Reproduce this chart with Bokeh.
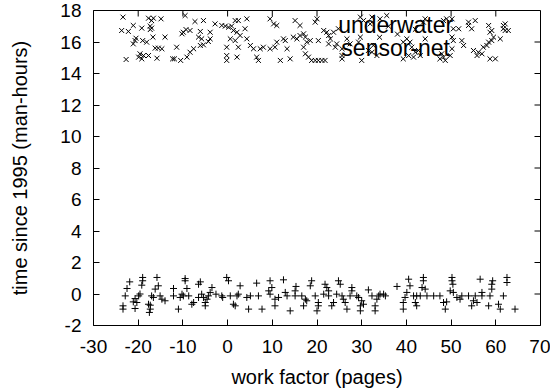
import math
from bokeh.plotting import figure
from bokeh.models import Range1d, FixedTicker
from bokeh.core.properties import value
from bokeh.embed import file_html
from bokeh.resources import INLINE

# series "x" (upper band)
upper_x = [-23.4, -17.7, -16.6, -14.9, -17.0, -21.1, -19.2, -17.3, -17.0, -23.7, -22.2, -17.3,
           -20.5, -20.7, -19.0, -21.1, -18.1, -16.7, -14.0, -15.5, -14.7, -16.2, -19.6, -18.8,
           -17.7, -15.8, -19.9, -19.2, -22.7, -12.3, -11.9, -10.5, -11.4, -9.9, -10.2, -9.3,
           -8.4, -7.3, -5.4, -6.1, -3.9, -6.5, -5.8, -3.9, -4.3, -5.4, -6.1, -7.6, -8.4, -9.1,
           -2.8, -1.3, -0.5, 0.2, 0.9, 1.7, 2.4, 1.3, 2.1, 2.8, 0.6, 1.7, 2.4, -0.2, -0.2, -0.2,
           2.1, -9.5,
           4.3, 3.9, 4.3, 5.1, 5.8, 7.3, 8.0, 6.5, 6.9, 9.5, 10.3, 11.0, 9.5, 10.6, 11.0, 12.5,
           12.9, 13.3, 11.8, 14.0, 15.1, 16.2, 14.7, 15.5, 16.2, 17.0, 17.4, 17.7, 17.0, 18.5,
           17.4, 18.1, 18.8, 19.6, 20.3, 21.1, 21.8, 20.0, 19.6, 20.3, 21.5, 22.2, 22.6, 23.0,
           22.6, 24.1, 24.4, 23.7, 24.8, 25.6, 25.6, 25.6, 26.7, 27.4, 29.3, 29.7, 30.0, 29.7,
           30.4, 32.3, 31.9, 31.5, 32.3, 33.4, 32.6, 34.1, 35.6,
           36.0, 38.0, 42.0, 34.0,
           44.2, 43.8, 48.3, 49.0, 50.2, 50.5, 51.7, 50.2, 50.5, 52.4, 52.8, 47.9, 48.3, 48.7,
           47.5, 53.9, 53.9, 55.4, 54.6, 58.4, 59.1, 58.7, 62.1, 62.8, 62.1, 61.7, 59.5, 59.1,
           58.4, 58.0, 57.2, 61.0, 55.0, 56.1, 56.9, 55.8, 58.7, 59.9, 61.7, 39.3, 40.1, 40.8,
           41.2, 42.0, 42.7, 40.5, 41.6, 39.3, 43.1, 44.2, 49.8, 50.2]
upper_y = [17.58, 17.51, 17.51, 17.47, 17.36, 17.05, 16.88, 17.01, 16.88, 16.73, 16.67, 16.79,
           16.24, 16.09, 16.09, 15.88, 15.99, 16.31, 16.31, 15.61, 15.57, 15.61, 15.25, 15.14,
           15.14, 14.97, 15.04, 14.93, 14.89, 14.93, 14.93, 14.83, 15.67, 16.62, 16.52, 16.79,
           16.73, 17.30, 17.36, 16.67, 16.62, 16.31, 16.20, 16.20, 16.03, 15.82, 15.78, 15.57,
           15.35, 15.04,
           17.15, 17.05, 17.01, 16.94, 17.01, 17.36, 17.36, 16.73, 16.62, 16.41, 16.20, 16.09,
           15.67, 15.67, 15.14, 14.83, 15.04, 17.68,
           17.47, 16.84, 16.20, 15.78, 15.57, 15.57, 15.67, 15.04, 14.83, 17.47, 17.15, 17.05,
           15.57, 15.67, 15.99, 16.20, 16.09, 15.57, 14.83, 14.93, 17.36, 17.05, 16.31, 16.20,
           16.41, 16.52, 16.31, 15.99, 15.67, 16.09, 15.25, 15.04, 14.83, 14.83, 14.83, 14.83,
           14.83, 17.47, 17.26, 16.09, 16.73, 16.62, 16.41, 16.20, 15.88, 15.67, 15.88, 16.62,
           16.84, 15.57, 15.14, 14.93, 16.20, 15.88, 15.99, 16.31, 14.83, 17.58, 17.36, 17.58,
           17.15, 15.46, 15.35, 15.14, 15.78, 17.47, 17.68,
           17.00, 16.50, 16.80, 16.30,
           17.47, 17.26, 17.36, 17.47, 17.47, 16.84, 16.84, 16.31, 16.09, 16.09, 15.78, 15.25,
           15.04, 14.83, 14.93, 17.26, 17.05, 17.36, 16.84, 17.05, 16.73, 16.62, 17.15, 16.73,
           16.73, 16.84, 16.31, 16.09, 15.99, 15.78, 15.67, 16.20, 15.46, 15.35, 15.25, 15.14,
           14.93, 14.93, 17.05, 15.99, 16.20, 15.99, 15.67, 15.35, 15.46, 15.14, 15.04, 14.93,
           15.14, 16.20, 15.14, 15.57]

# series "+" (lower band)
lower_x = [-21.9, -22.5, -22.9, -23.4, -23.4, -19.0, -19.0, -19.2, -19.6, -19.9, -20.7, -21.1,
           -20.3, -20.7, -17.7, -17.3, -17.3, -17.5, -15.8, -15.5, -16.2, -17.0, -16.6, -15.1,
           -14.7, -14.0, -12.1, -12.1, -11.0, -9.5, -9.5, -9.1, -10.2, -9.9, -8.7, -10.6, -8.0,
           -7.6, -6.1, -6.5, -5.8, -6.5, -5.4, -4.6, -5.0, -5.0, -3.5, -3.9, -4.3, -2.6, -1.1,
           -1.3, -0.2, 0.2, 0.6, 1.3, 1.7, 2.1, 2.4, 2.8,
           4.3, 5.1, 4.7, 6.5, 6.9, 7.7, 9.2, 9.5, 9.9, 9.5, 10.6, 10.6, 11.4, 12.5, 12.9, 13.3,
           14.0, 15.1, 15.1, 15.3, 16.6, 17.4, 17.0, 17.7, 18.8, 18.5, 19.6, 20.3, 20.3, 20.0,
           21.8, 22.2, 22.6, 21.5, 22.6, 23.3, 23.7, 24.8, 25.2, 24.4, 25.6, 25.9, 26.3, 26.7,
           27.4, 27.8, 27.8, 28.9, 29.3, 30.0, 29.7, 29.7, 30.4, 31.5, 32.3, 33.0, 33.0, 33.4,
           33.8, 34.1, 34.9, 35.3,
           37.9, 40.5, 40.8, 40.1, 39.7, 39.3, 39.3, 41.6, 42.3, 42.0, 42.3, 43.1, 43.8, 43.8,
           43.5, 44.2, 44.6, 46.1, 47.5, 48.3, 48.7, 49.0, 50.2, 50.2, 50.4, 49.8, 50.5, 51.3,
           52.0, 52.4, 53.9, 55.4, 55.0, 54.6, 55.8, 56.9, 56.5, 56.9, 58.4, 58.7, 59.1, 59.1,
           59.3, 61.7, 60.6, 61.0, 62.5, 62.5, 64.3]
lower_y = [0.77, 0.35, -0.12, -0.75, -0.96, 1.05, 0.84, 0.56, 0.00, -0.12, -0.29, -0.50, -0.54,
           -0.92, -0.65, -0.71, -0.96, -1.17, 1.05, 0.52, 0.31, -0.12, -0.22, -0.12, -0.33,
           -0.43, 0.35, -0.12, -0.96, 0.98, 0.84, 0.35, -0.01, -0.12, -0.12, -0.22, -0.65,
           -0.54, 0.77, 0.62, -0.01, -0.22, -0.22, -0.33, -0.54, -0.75, 0.41, 0.10, -0.12,
           -0.01, -0.22, -0.12, 1.05, 0.84, -0.12, -0.65, -0.75, -0.12, -0.01, 0.52,
           -0.22, -0.12, -0.96, 0.69, -0.12, -0.96, 0.20, 0.84, 0.41, -0.01, -0.33, -0.75,
           -0.22, 0.90, 0.10, -0.12, -1.07, -0.12, 0.20, 0.48, -0.12, -0.33, -0.75, -0.43,
           0.84, 0.52, -0.12, -0.54, -0.75, -1.07, 0.62, 0.41, 0.20, -0.01, -0.12, -0.75,
           -0.54, 0.84, 0.62, -0.01, -0.12, -0.33, -0.54, -0.96, -0.12, 0.41, 0.20, -0.12,
           -0.22, -0.43, -0.75, -1.07, -0.65, 0.26, -0.12, -0.75, -1.07, -0.33, -0.12, -0.01,
           -0.01, -0.12,
           0.48, 0.94, 0.52, 0.10, -0.22, -0.54, -0.96, -0.12, -0.12, -0.54, -0.75, -0.12, 1.05,
           0.84, 0.41, 0.31, -0.12, -0.12, -0.12, -0.54, -0.96, -0.50, 1.05, 0.84, 0.62, 0.20,
           0.10, -0.22, -0.33, -0.12, -0.12, -0.12, -0.43, -0.75, -0.54, 0.10, 0.94, -0.12,
           -0.75, -0.12, 0.31, 0.62, 0.84, -0.12, -0.65, -0.96, 1.05, 0.73, -0.96]

x_ticks = [-30, -20, -10, 0, 10, 20, 30, 40, 50, 60, 70]
y_ticks = [-2, 0, 2, 4, 6, 8, 10, 12, 14, 16, 18]
x_min, x_max = -30, 70
y_min, y_max = -2, 18
label_x = [37.6, 37.6]
label_y = [17.05, 15.65]
label_text = ["underwater", "sensor-net"]

FONT = "Liberation Sans"

p = figure(width=550, height=390, output_backend="svg", toolbar_location=None,
           x_range=Range1d(x_min, x_max), y_range=Range1d(y_min, y_max),
           min_border_left=93, min_border_right=10, min_border_top=10, min_border_bottom=65)
p.grid.visible = False
p.outline_line_color = "black"
p.outline_line_width = 1
p.background_fill_color = "white"
p.border_fill_color = "white"

xa = p.xaxis[0]
ya = p.yaxis[0]
xa.ticker = FixedTicker(ticks=x_ticks)
ya.ticker = FixedTicker(ticks=y_ticks)
xa.major_label_overrides = {t: str(t) for t in x_ticks}
ya.major_label_overrides = {t: str(t) for t in y_ticks}
for ax in (xa, ya):
    ax.axis_line_color = None
    ax.major_tick_in = 6
    ax.major_tick_out = 0
    ax.minor_tick_line_color = None
    ax.major_tick_line_color = "black"
    ax.major_label_text_font = FONT
    ax.major_label_text_font_size = "19px"
    ax.major_label_text_color = "black"
    ax.axis_label_text_font = FONT
    ax.axis_label_text_font_size = "20px"
    ax.axis_label_text_font_style = "normal"
    ax.axis_label_text_color = "black"
xa.axis_label = "work factor (pages)"
ya.axis_label = "time since 1995 (man-hours)"
xa.major_label_standoff = 14
xa.axis_label_standoff = 10
ya.major_label_standoff = 12
ya.axis_label_standoff = 26

# mirrored inward ticks on the top and right borders
p.ray(x=x_ticks, y=[y_max] * len(x_ticks), length=6, length_units="screen",
      angle=-math.pi / 2, line_color="black", line_width=1)
p.ray(x=[x_max] * len(y_ticks), y=y_ticks, length=6, length_units="screen",
      angle=math.pi, line_color="black", line_width=1)

p.scatter(upper_x, upper_y, marker="x", size=7, line_color="black", line_width=1)
p.scatter(lower_x, lower_y, marker="cross", size=7, line_color="black", line_width=1)

p.text(label_x, label_y, text=label_text, text_font=value(FONT), text_font_size="23px",
       text_align="center", text_baseline="middle", text_color="black")

open("out.html", "w").write(file_html(p, INLINE))
